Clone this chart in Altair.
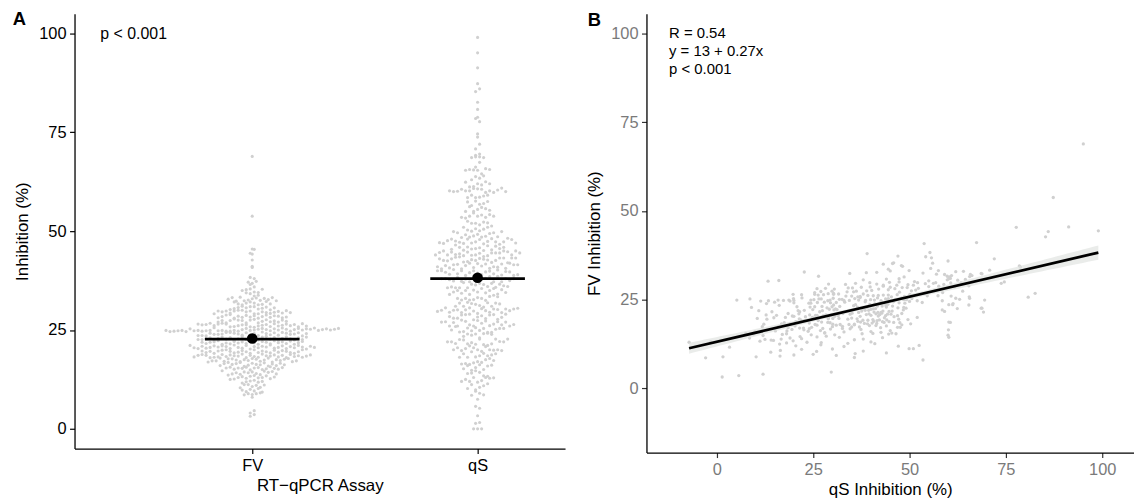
import altair as alt
import numpy as np
import pandas as pd

fv = [
    3.2, 3.6, 4.0, 4.6,
    8.0, 8.6, 8.9, 8.7,
    8.9, 9.1, 9.8, 9.4, 10.0, 9.6, 10.2, 9.3,
    10.4, 11.2, 11.2, 10.7, 11.0, 10.5, 11.1,
    11.6, 11.9, 12.1, 12.5, 12.3, 11.8, 12.6, 12.0,
    13.0, 13.2, 12.8, 13.3, 13.6, 13.5, 12.9, 13.0, 13.4, 12.7, 13.1,
    13.9, 14.2, 13.8, 14.4, 14.7, 14.2, 14.4, 14.0, 13.7, 14.6, 14.3, 14.5, 13.9,
    15.4, 15.6, 15.1, 15.4, 15.3, 15.6, 14.9, 15.4, 15.5, 15.0, 15.2, 15.7, 15.3, 15.1, 15.5,
    16.0, 16.5, 16.8, 16.3, 16.5, 16.9, 16.8, 15.8, 16.1, 16.6, 16.3, 16.2, 16.7, 15.9, 16.4, 16.0, 16.6, 16.2,
    17.2, 17.2, 17.9, 17.1, 17.7, 17.7, 17.4, 17.0, 17.5, 17.3, 17.8, 17.6, 17.1, 17.4, 17.9, 16.9, 17.5, 17.3, 17.6, 17.8, 17.0, 17.2,
    18.2, 18.6, 18.8, 18.6, 18.0, 18.1, 18.2, 18.8, 18.3, 18.7, 18.5, 18.4, 18.9, 18.0, 18.6, 18.3, 18.1, 18.9, 18.5, 18.4,
    18.7, 18.2, 18.6, 18.0, 18.8, 18.3, 18.5, 18.1, 18.4, 18.7,
    19.7, 19.3, 19.6, 19.1, 19.7, 19.9, 20.0, 19.6, 19.2, 19.4, 19.8, 19.5, 19.1, 20.0, 19.3, 19.7, 19.5, 19.2, 19.9, 19.4,
    19.8, 19.6, 19.3, 19.1, 19.5, 20.0,
    21.1, 20.5, 20.3, 20.9, 20.4, 20.6, 21.0, 20.7, 21.0, 20.8, 20.3, 21.2, 20.6, 20.4, 21.1, 20.2, 20.8, 20.5, 20.9, 20.7,
    21.2, 20.4, 20.6, 21.0, 20.3, 20.8, 20.5, 21.1, 20.7, 20.2, 20.9, 20.6,
    21.9, 21.6, 21.9, 22.0, 22.3, 21.4, 21.7, 21.5, 22.1, 21.7, 22.0, 21.6, 22.2, 21.8, 21.4, 22.1, 21.9, 21.5, 22.3, 21.8,
    22.0, 21.6, 22.2, 21.4, 21.8, 22.1,
    22.6, 22.6, 22.8, 23.0, 22.5, 22.9, 23.2, 22.7, 23.1, 22.4, 22.8, 23.3, 22.6, 23.0, 22.9, 22.5, 23.2, 23.4, 22.7, 23.1,
    22.4, 22.9, 23.3, 22.8, 22.5, 23.0, 22.6, 23.2,
    23.6, 23.6, 23.5, 24.2, 23.9, 23.9, 24.0, 24.4, 24.4, 24.2, 24.0, 23.7, 24.3, 23.8, 24.1, 23.6, 24.5, 24.1, 23.8, 24.3,
    23.7, 24.4, 24.2, 23.9, 24.0, 24.3, 23.5, 24.1,
    24.9, 24.6, 24.7, 24.8, 24.9, 24.6, 25.3, 24.8, 24.9, 24.7, 24.8, 24.9, 25.6, 24.8, 24.9, 24.7, 24.7, 24.9, 24.7, 25.1,
    25.4, 24.9, 25.0, 25.2, 25.4, 25.1, 24.8, 25.3, 25.0, 25.5, 25.2, 24.7, 25.1, 25.4, 25.0, 25.3, 25.2, 25.5, 24.9, 25.1,
    25.3, 25.0, 25.2, 25.4,
    26.5, 26.3, 26.4, 26.7, 26.1, 26.5, 26.7, 26.5, 25.8, 25.9, 26.1, 26.3, 26.3, 25.8, 25.7, 26.0, 26.2, 26.4, 25.9, 26.6,
    26.0, 26.2, 26.5, 26.1, 26.4, 25.8, 26.6, 26.0,
    27.0, 27.4, 26.8, 27.4, 27.8, 27.5, 27.4, 26.8, 27.5, 27.7, 26.8, 27.2, 27.6, 27.1, 27.3, 27.0, 27.5, 27.2,
    28.1, 28.4, 28.8, 28.9, 28.0, 28.5, 28.2, 28.7, 28.3, 28.6, 28.0, 28.4, 28.8, 28.2, 28.6, 28.5, 28.1, 28.3,
    29.1, 29.8, 29.6, 29.8, 29.3, 29.8, 30.0, 30.0, 29.6, 29.8, 29.1, 29.1, 29.6, 29.4, 29.2, 29.5, 29.7, 29.3, 29.9, 29.4,
    30.2, 30.4, 30.7, 31.0, 30.6, 30.9, 30.9, 30.3, 30.5, 30.8, 30.1, 30.6,
    32.1, 31.6, 31.4, 31.8, 32.1, 31.8, 31.4, 31.5, 32.2, 31.6,
    32.8, 33.2, 32.3, 33.3, 32.4, 32.6, 32.9, 33.1, 32.5, 33.0, 32.7, 33.2, 32.4,
    34.4, 34.2, 33.6, 33.8,
    35.0, 35.2, 35.4, 34.6, 34.5, 35.3,
    36.5, 35.9,
    37.1, 36.8, 37.3,
    38.3, 38.0,
    40.8, 41.1,
    42.7,
    44.2, 44.4,
    45.4, 45.5,
    53.8, 68.9,
]

qs = [
    1.4, 5.7, 12.0, 29.7,
    53.5, -2.9, 1.6, 35.7,
    10.2, 16.4, 35.9, 20.0, 44.0, 25.0, 14.0, 31.0,
    25.9, 49.9, 51.0, 16.5, 22.0, 38.0, 30.0,
    3.3, 47.1, 52.5, 16.3, 27.0, 33.0, 41.0, 20.5,
    -7.2, -1.6, 18.1, 11.2, 14.1, 14.7, 27.1, 23.4, 19.8, 34.0, 40.0,
    16.7, 19.0, 12.5, 31.8, 28.4, 8.5, 60.2, 22.0, 35.7, 21.6, 43.0, 26.0, 38.0,
    18.1, 28.0, 30.6, 37.7, 44.6, 45.4, 12.0, 46.5, 7.5, 60.0, 17.0, 28.0, 9.5, 24.5, 40.5,
    9.9, 22.6, 24.0, 26.9, 60.1, 32.6, 34.6, 42.6, 23.7, 37.4, 45.0, 15.2, 29.5, 33.0, 13.0, 40.0, 19.5, 18.2,
    46.9, 47.6, 35.7, 42.5, 39.6, 41.3, 30.0, 22.5, 32.6, 37.0, 26.0, 44.0, 18.5, 11.8, 48.0, 27.5, 16.0, 35.0, 20.3, 31.0, 21.5, 24.6,
    16.8, 60.6, 43.0, 43.4, 34.3, 35.7, 50.3, 44.7, 38.3, 60.2, 17.5, 24.0, 40.7, 25.5, 28.8, 41.5, 30.1, 36.6, 47.5, 21.0,
    27.2, 39.1, 45.9, 32.0, 20.5, 19.1, 29.4, 12.2, 40.3, 37.3,
    10.5, 21.8, 28.9, 41.6, 30.1, 43.5, 52.0, 21.4, 37.9, 40.5, 35.0, 47.2, 26.3, 24.8, 44.1, 31.7, 13.0, 39.2, 14.8, 49.6,
    29.0, 36.4, 42.2, 22.7, 34.0, 17.8,
    18.5, 46.9, 20.0, 45.2, 27.6, 40.0, 41.3, 12.8, 21.3, 42.3, 30.6, 42.8, 25.6, 41.9, 48.0, 23.0, 38.8, 31.5, 44.3, 28.3,
    35.1, 19.6, 26.0, 39.5, 37.2, 29.8, 43.8, 32.7, 24.1, 46.0, 34.6, 15.5,
    21.1, 21.5, 27.4, 38.5, 40.0, 42.6, 44.7, 69.2, 58.5, 59.1, 22.7, 26.7, 31.2, 43.1, 36.8, 48.4, 10.9, 40.8, 29.2, 45.5,
    39.4, 14.3, 24.9, 41.8, 37.6, 30.4,
    68.6, 68.8, 9.0, 20.8, 41.2, 36.5, 41.7, 47.0, 27.3, 30.8, 39.0, 43.9, 49.1, 25.4, 44.0, 37.8, 45.6, 16.2, 28.6, 31.9,
    40.6, 24.2, 35.5, 48.5, 62.4, 29.9, 38.1, 42.9,
    60.2, 61.2, 65.4, 53.3, 12.9, 61.3, 24.4, 42.7, 38.5, 31.0, 23.9, 44.4, 27.9, 41.0, 47.3, 36.0, 50.0, 29.5, 42.1, 33.2,
    39.7, 45.8, 26.1, 43.6, 48.8, 15.0, 30.3, 20.0,
    5.2, 11.4, 13.4, 17.3, 18.7, 19.0, 19.9, 20.0, 24.4, 28.8, 34.4, 36.8, 37.2, 38.6, 40.9, 42.6, 52.0, 15.9, 58.5, 63.0,
    65.6, 69.5, 25.2, 26.5, 30.2, 31.8, 33.0, 35.8, 39.9, 41.7, 43.8, 45.1, 46.3, 47.9, 49.2, 50.6, 8.6, 22.1, 29.4, 32.5,
    44.5, 48.5, 27.1, 62.0,
    19.8, 26.3, 22.0, 53.8, 54.6, 25.4, 28.9, 30.3, 36.6, 37.2, 40.6, 43.2, 44.5, 65.5, 80.8, 33.5, 41.9, 46.8, 48.7, 31.6,
    35.0, 39.2, 50.1, 57.4, 27.7, 45.3, 38.0, 60.8,
    25.4, 29.9, 30.3, 36.2, 44.5, 56.5, 63.8, 82.6, 50.5, 51.6, 53.8, 33.8, 40.2, 47.4, 27.0, 58.6, 38.9, 35.5,
    46.2, 48.1, 43.2, 65.4, 42.0, 37.5, 52.3, 55.0, 34.1, 39.8, 30.5, 49.4, 57.6, 28.2, 61.7, 45.0, 26.0, 35.2,
    51.0, 52.1, 56.2, 56.8, 58.9, 63.4, 47.3, 74.6, 73.8, 39.7, 43.2, 46.7, 36.0, 41.5, 49.6, 54.1, 60.7, 33.4, 44.8, 29.0,
    13.3, 16.1, 64.5, 60.6, 59.8, 60.2, 47.3, 55.0, 62.5, 44.0, 51.3, 38.0,
    59.1, 59.8, 60.4, 60.9, 65.8, 66.2, 48.6, 65.6, 57.0, 26.4,
    22.7, 49.9, 68.8, 70.8, 68.6, 38.8, 62.0, 45.0, 53.5, 64.0, 41.5, 57.5, 34.5,
    48.2, 78.8, 44.5, 55.5,
    43.2, 45.6, 45.9, 47.9, 78.5, 56.0,
    72.0, 60.0,
    54.2, 55.7, 47.0,
    55.3, 39.0,
    53.8, 67.4,
    85.3,
    86.0, 99.0,
    77.7, 91.3,
    87.3, 95.1,
]

assays = ["FV", "qS"]
annot_A = ["p < 0.001"]
annot_B = ["R = 0.54", "y = 13 + 0.27x", "p < 0.001"]
tick_vals = [0, 25, 50, 75, 100]

n = min(len(fv), len(qs))
fv = fv[:n]
qs = qs[:n]

FONT = "Liberation Sans"
DOT = "#d0d0d0"

# ---------------- Panel A : beeswarm ----------------
dfA = pd.DataFrame({
    "group": [assays[0]] * n + [assays[1]] * n,
    "value": fv + qs,
    "idx": list(range(n)) * 2,
})

xA = alt.Scale(domain=[0.2115, 2.388], nice=False, zero=False)
yA = alt.Scale(domain=[-5, 105], nice=False, zero=False)

axA_x = alt.Axis(values=[1, 2], labelExpr="datum.value == 1 ? 'FV' : 'qS'",
                 title="RT\u2212qPCR Assay", grid=False,
                 domainColor="black", domainWidth=1.3, tickColor="black", tickWidth=1.2,
                 tickSize=5, labelColor="black", labelFontSize=16.5, labelPadding=4,
                 labelFlush=False, labelOverlap=False,
                 titleFontSize=17, titleFontWeight="normal", titleColor="black", titlePadding=4)
axA_y = alt.Axis(values=tick_vals, title="Inhibition (%)", grid=False,
                 domainColor="black", domainWidth=1.3, tickColor="black", tickWidth=1.2,
                 tickSize=5, labelColor="black", labelFontSize=16.5, labelPadding=3.5,
                 labelFlush=False, labelOverlap=False,
                 titleFontSize=17, titleFontWeight="normal", titleColor="black", titlePadding=7)

baseA = alt.Chart(dfA)

swarm = (
    baseA
    .transform_calculate(v="max(0, min(100, datum.value))")
    .transform_calculate(bs="datum.group == 'FV' ? 1.1 : 1.6")
    .transform_calculate(band="round((datum.v - 25.1) / datum.bs)")
    .transform_window(rk="row_number()", groupby=["group", "band"], sort=[alt.SortField("idx")])
    .transform_joinaggregate(nb="count()", groupby=["group", "band"])
    .transform_calculate(xpos="(datum.group == 'FV' ? 1 : 2) + (datum.rk - (datum.nb + 1) / 2) * 0.0178")
    .mark_circle(size=10, color=DOT, opacity=1)
    .encode(x=alt.X("xpos:Q", scale=xA, axis=axA_x), y=alt.Y("v:Q", scale=yA, axis=axA_y))
)

stats = (
    baseA
    .transform_aggregate(m="mean(value)", md="median(value)", groupby=["group"])
    .transform_calculate(xc="datum.group == 'FV' ? 1 : 2")
    .transform_calculate(xl="datum.xc - 0.21", xr="datum.xc + 0.21")
)
median_bar = stats.mark_rule(color="black", strokeWidth=2.6).encode(
    x=alt.X("xl:Q", scale=xA, axis=axA_x), x2="xr:Q", y=alt.Y("md:Q", scale=yA, axis=axA_y))
mean_pt = stats.mark_circle(size=115, color="black", opacity=1).encode(
    x=alt.X("xc:Q", scale=xA, axis=axA_x), y=alt.Y("m:Q", scale=yA, axis=axA_y))

txtA = alt.Chart(pd.DataFrame({"x": [0.326], "y": [98.5], "t": annot_A})).mark_text(
    align="left", baseline="alphabetic", fontSize=16, font=FONT, color="black").encode(
    x=alt.X("x:Q", scale=xA, axis=axA_x), y=alt.Y("y:Q", scale=yA, axis=axA_y), text="t:N")

tagA = alt.Chart(pd.DataFrame({"x": [-0.063], "y": [102.1], "t": ["A"]})).mark_text(
    align="left", baseline="alphabetic", fontSize=18.5, fontWeight="bold", font=FONT, color="black").encode(
    x=alt.X("x:Q", scale=xA, axis=axA_x), y=alt.Y("y:Q", scale=yA, axis=axA_y), text="t:N")

panelA = alt.layer(swarm, median_bar, mean_pt, txtA, tagA).properties(width=494, height=438)

# ---------------- Panel B : scatter + regression ----------------
dfB = pd.DataFrame({"qs": qs, "fv": fv})

x_arr = np.array(qs, dtype=float)
y_arr = np.array(fv, dtype=float)
b1, b0 = np.polyfit(x_arr, y_arr, 1)
resid = y_arr - (b0 + b1 * x_arr)
s = np.sqrt(np.sum(resid ** 2) / (n - 2))
xbar = x_arr.mean()
sxx = np.sum((x_arr - xbar) ** 2)
xg = np.linspace(x_arr.min(), x_arr.max(), 80)
se = s * np.sqrt(1.0 / n + (xg - xbar) ** 2 / sxx)
yhat = b0 + b1 * xg
dfBand = pd.DataFrame({"x": xg, "lo": yhat - 1.965 * se, "hi": yhat + 1.965 * se})

xB = alt.Scale(domain=[-18.25, 108.25], nice=False, zero=False)
yB = alt.Scale(domain=[-18.1, 105.6], nice=False, zero=False)

axB_x = alt.Axis(values=tick_vals, title="qS Inhibition (%)", grid=False,
                 domainColor="black", domainWidth=1.3, tickColor="#333333", tickWidth=1.2,
                 tickSize=5, labelColor="#7a7a7a", labelFontSize=16.5, labelPadding=4,
                 labelFlush=False, labelOverlap=False,
                 titleFontSize=17, titleFontWeight="normal", titleColor="black", titlePadding=4)
axB_y = alt.Axis(values=tick_vals, title="FV Inhibition (%)", grid=False,
                 domainColor="black", domainWidth=1.3, tickColor="#333333", tickWidth=1.2,
                 tickSize=5, labelColor="#7a7a7a", labelFontSize=16.5, labelPadding=3.5,
                 labelFlush=False, labelOverlap=False,
                 titleFontSize=17, titleFontWeight="normal", titleColor="black", titlePadding=7)

pts = alt.Chart(dfB).mark_circle(size=11, color=DOT, opacity=1).encode(
    x=alt.X("qs:Q", scale=xB, axis=axB_x), y=alt.Y("fv:Q", scale=yB, axis=axB_y))

band = alt.Chart(dfBand).mark_area(color="#dfe2df", opacity=0.65).encode(
    x=alt.X("x:Q", scale=xB, axis=axB_x), y=alt.Y("lo:Q", scale=yB, axis=axB_y), y2="hi:Q")

line = alt.Chart(dfB).transform_regression("qs", "fv").mark_line(color="black", strokeWidth=2.8).encode(
    x=alt.X("qs:Q", scale=xB, axis=axB_x), y=alt.Y("fv:Q", scale=yB, axis=axB_y))

txtB = alt.Chart(pd.DataFrame({"x": [-12.4] * 3, "y": [98.7, 93.8, 88.7], "t": annot_B})).mark_text(
    align="left", baseline="alphabetic", fontSize=15, font=FONT, color="black").encode(
    x=alt.X("x:Q", scale=xB, axis=axB_x), y=alt.Y("y:Q", scale=yB, axis=axB_y), text="t:N")

tagB = alt.Chart(pd.DataFrame({"x": [-33.5], "y": [102.0], "t": ["B"]})).mark_text(
    align="left", baseline="alphabetic", fontSize=18.5, fontWeight="bold", font=FONT, color="black").encode(
    x=alt.X("x:Q", scale=xB, axis=axB_x), y=alt.Y("y:Q", scale=yB, axis=axB_y), text="t:N")

panelB = alt.layer(pts, band, line, txtB, tagB).properties(width=491, height=442)

chart = (
    alt.hconcat(panelA, panelB, spacing=20)
    .properties(padding={"left": 4, "top": 0, "right": 0, "bottom": 0}, background="white")
    .configure_view(stroke=None)
    .configure_axis(labelFont=FONT, titleFont=FONT)
    .configure_text(font=FONT)
)

chart.save("out.html", embed_options={"renderer": "svg", "actions": False})
